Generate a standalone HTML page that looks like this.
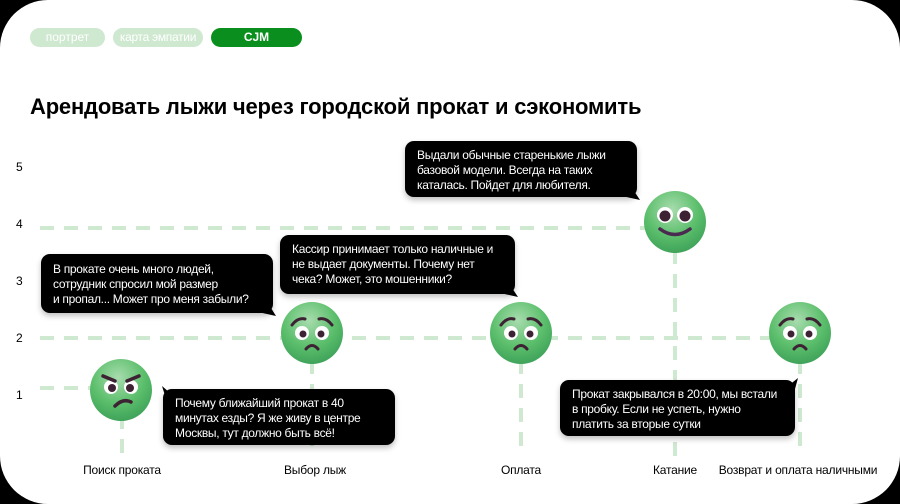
<!DOCTYPE html><html><head><meta charset="utf-8"><style>
body{margin:0;background:#000;width:900px;height:504px;overflow:hidden;font-family:"Liberation Sans",sans-serif}
.card{position:absolute;left:0;top:0;width:900px;height:504px;background:#fff;border-radius:48px}
.pill{position:absolute;top:28px;height:19px;border-radius:10px;background:#cfe8d0;color:#fff;font-size:12px;line-height:19px;text-align:center}
.b{position:absolute;background:#000;color:#fff;font-size:12px;line-height:15px;border-radius:9px;padding:7px 0 0 12px;box-sizing:border-box;box-shadow:0 3px 6px rgba(0,0,0,.25);white-space:nowrap;letter-spacing:-0.3px}
.yl{position:absolute;left:16px;font-size:12px}
.xl{position:absolute;top:463px;font-size:12px;transform:translateX(-50%);white-space:nowrap;letter-spacing:-0.2px}
</style></head><body><div class="card"></div>
<div class="pill" style="left:30px;width:75px">портрет</div>
<div class="pill" style="left:113px;width:90px;letter-spacing:-0.3px">карта эмпатии</div>
<div class="pill" style="left:211px;width:91px;background:#0a8f1e;font-weight:bold">CJM</div>
<div style="position:absolute;left:30px;top:94px;font-size:22px;font-weight:bold;letter-spacing:-0.2px">Арендовать лыжи через городской прокат и сэкономить</div>
<div class="yl" style="top:160px">5</div><div class="yl" style="top:217px">4</div><div class="yl" style="top:274px">3</div><div class="yl" style="top:331px">2</div><div class="yl" style="top:388px">1</div>
<svg width="900" height="504" style="position:absolute;left:0;top:0">
<defs><radialGradient id="g" cx="0.45" cy="0.3" r="0.7"><stop offset="0" stop-color="#a8dcae"/><stop offset="0.6" stop-color="#5cbf6c"/><stop offset="1" stop-color="#3fa35a"/></radialGradient>
<g id="f"><circle r="31" fill="url(#g)"/></g></defs>
<g stroke="#cfe8d0" stroke-width="4" stroke-dasharray="14 10" fill="none">
<line x1="40" y1="228" x2="650" y2="228"/><line x1="40" y1="338" x2="790" y2="338"/><line x1="40" y1="388" x2="95" y2="388"/>
<line x1="122" y1="415" x2="122" y2="456"/><line x1="312" y1="360" x2="312" y2="456"/><line x1="521" y1="360" x2="521" y2="456"/><line x1="675" y1="250" x2="675" y2="456"/><line x1="800" y1="360" x2="800" y2="456"/>
</g>
<g transform="translate(121,390)"><use href="#f"/><circle cx="-10" cy="-3" r="7" fill="#fff"/><circle cx="10" cy="-3" r="7" fill="#fff"/><circle cx="-9" cy="-2" r="4" fill="#3d2233"/><circle cx="9" cy="-2" r="4" fill="#3d2233"/><path d="M-18-14L-6-9M18-14L6-9" stroke="#3d2233" stroke-width="3.5" stroke-linecap="round"/><path d="M-6 16Q2 8 10 12" stroke="#3d2233" stroke-width="3.5" fill="none" stroke-linecap="round"/></g>
<g id="sad" transform="translate(312,333)"><use href="#f"/><circle cx="-10" cy="0" r="7" fill="#fff"/><circle cx="10" cy="0" r="7" fill="#fff"/><circle cx="-9" cy="1" r="3.5" fill="#3d2233"/><circle cx="9" cy="1" r="3.5" fill="#3d2233"/><path d="M-20-8Q-14-16-7-14M20-8Q14-16 7-14" stroke="#3d2233" stroke-width="3" fill="none" stroke-linecap="round"/><path d="M-6 16Q0 9 6 16" stroke="#3d2233" stroke-width="3" fill="none" stroke-linecap="round"/></g>
<use href="#sad" transform="translate(209,0)"/><use href="#sad" transform="translate(488,0)"/>
<g transform="translate(675,222)"><use href="#f"/><circle cx="-10" cy="-7" r="8" fill="#fff"/><circle cx="10" cy="-7" r="8" fill="#fff"/><circle cx="-10" cy="-6" r="5.5" fill="#3d2233"/><circle cx="10" cy="-6" r="5.5" fill="#3d2233"/><path d="M-15 7Q0 18 15 7" stroke="#4a2a50" stroke-width="3.5" fill="none" stroke-linecap="round"/></g>
<path d="M266 300L276 316L258 312Z"/><path d="M508 282L518 297L500 293Z"/><path d="M630 185L640 200L622 196Z"/><path d="M170 393L162 386L168 405Z"/><path d="M788 386L798 378L792 400Z"/>
</svg>
<div class="b" style="left:41px;top:254px;width:232px;height:59px;padding-top:8px">В прокате очень много людей,<br>сотрудник спросил мой размер<br>и пропал... Может про меня забыли?</div>
<div class="b" style="left:280px;top:235px;width:235px;height:59px">Кассир принимает только наличные и<br>не выдает документы. Почему нет<br>чека? Может, это мошенники?</div>
<div class="b" style="left:405px;top:141px;width:232px;height:56px">Выдали обычные старенькие лыжи<br>базовой модели. Всегда на таких<br>каталась. Пойдет для любителя.</div>
<div class="b" style="left:163px;top:389px;width:232px;height:56px">Почему ближайший прокат в 40<br>минутах езды? Я же живу в центре<br>Москвы, тут должно быть всё!</div>
<div class="b" style="left:560px;top:380px;width:235px;height:56px">Прокат закрывался в 20:00, мы встали<br>в пробку. Если не успеть, нужно<br>платить за вторые сутки</div>
<div class="xl" style="left:122px">Поиск проката</div><div class="xl" style="left:315px">Выбор лыж</div><div class="xl" style="left:521px">Оплата</div><div class="xl" style="left:675px">Катание</div><div class="xl" style="left:798px">Возврат и оплата наличными</div>
</body></html>
